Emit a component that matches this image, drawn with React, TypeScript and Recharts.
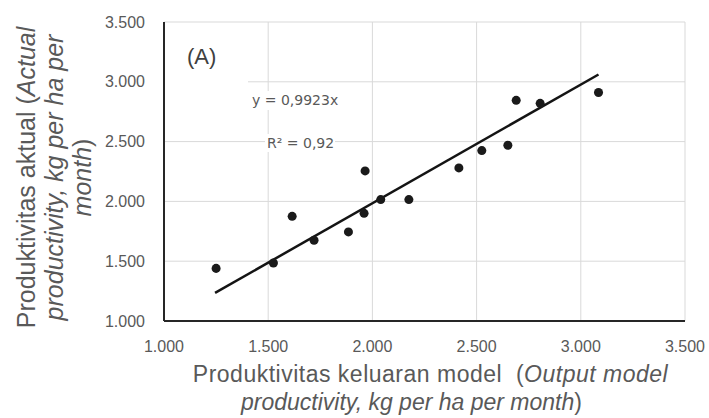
import React from 'react';
import { ScatterChart, Scatter, XAxis, YAxis, CartesianGrid, ReferenceLine, Label, Customized } from 'recharts';

// model output vs actual productivity (kg per ha per month)
const modelOutput = [1250, 1525, 1615, 1720, 1885, 1965, 1960, 2040, 2175, 2415, 2525, 2650, 2690, 2805, 3085];
const actualProd = [1440, 1485, 1875, 1675, 1745, 2255, 1900, 2015, 2015, 2280, 2425, 2470, 2845, 2820, 2910];

// trendline end points (y = 0,9923x)
const trendX = [1245, 3085];
const trendY = [1235, 3061];

const axisTicks = [1000, 1500, 2000, 2500, 3000, 3500];

const points = modelOutput.map((x, i) => ({ x, y: actualProd[i] }));

const FONT = '"Liberation Sans", Arial, sans-serif';
const GREY = '#595959';

const fmt = (v: number) => `${Math.floor(v / 1000)}.${String(v % 1000).padStart(3, '0')}`;

const XTitle = ({ viewBox }: any) => {
    const cx = viewBox.x + viewBox.width / 2;
    return (
        <g fill={GREY} fontFamily={FONT} fontSize={23}>
            <text x={cx + 6} y={382} textAnchor="middle" xmlSpace="preserve" letterSpacing={0.5}>
                <tspan>Produktivitas keluaran model  (</tspan>
                <tspan fontStyle="italic">Output model</tspan>
            </text>
            <text x={cx - 13} y={410} textAnchor="middle">
                <tspan fontStyle="italic">productivity, kg per ha per month</tspan>
                <tspan>)</tspan>
            </text>
        </g>
    );
};

const YTitle = ({ viewBox }: any) => {
    const cy = viewBox.y + viewBox.height / 2 + 6;
    return (
        <g transform={`translate(0, ${cy}) rotate(-90)`} fill={GREY} fontFamily={FONT} fontSize={25}>
            <text x={0} y={35} textAnchor="middle">
                <tspan>Produktivitas aktual (</tspan>
                <tspan fontStyle="italic">Actual</tspan>
            </text>
            <text x={0} y={63} textAnchor="middle">
                <tspan fontStyle="italic">productivity, kg per ha per</tspan>
            </text>
            <text x={0} y={91} textAnchor="middle">
                <tspan fontStyle="italic">month</tspan>
                <tspan>)</tspan>
            </text>
        </g>
    );
};

const Notes = () => (
    <g>
        <rect x={165} y={30} width={83} height={58} fill="#fff" />
        <text x={187} y={64} fontFamily={FONT} fontSize={22} fill="#404040">(A)</text>
        <rect x={250} y={91} width={98} height={19} fill="#fff" />
        <text x={252} y={105} fontFamily='"DejaVu Sans", sans-serif' fontSize={14} fill={GREY}>y = 0,9923x</text>
        <rect x={265} y={134} width={70} height={18} fill="#fff" />
        <text x={267} y={148} fontFamily='"DejaVu Sans", sans-serif' fontSize={14} fill={GREY}>R² = 0,92</text>
    </g>
);

const App: React.FC = () => {
    return (
        <div style={{ position: 'absolute', left: 0, top: 0, background: '#fff' }}>
            <ScatterChart width={709} height={418} margin={{ top: 22, right: 24, bottom: 0, left: 0 }}>
                <CartesianGrid stroke="#d9d9d9" />
                <XAxis
                    type="number"
                    dataKey="x"
                    domain={[1000, 3500]}
                    ticks={axisTicks}
                    tickFormatter={fmt}
                    height={97}
                    axisLine={{ stroke: '#262626', strokeWidth: 2 }}
                    tickLine={false}
                    tickMargin={14}
                    tick={{ fill: GREY, fontSize: 16, fontFamily: FONT }}
                >
                    <Label content={XTitle} />
                </XAxis>
                <YAxis
                    type="number"
                    dataKey="y"
                    domain={[1000, 3500]}
                    ticks={axisTicks}
                    tickFormatter={fmt}
                    width={164}
                    axisLine={{ stroke: '#262626', strokeWidth: 2 }}
                    tickLine={false}
                    tickMargin={13}
                    tick={{ fill: GREY, fontSize: 16, fontFamily: FONT }}
                >
                    <Label content={YTitle} />
                </YAxis>
                <Customized component={Notes} />
                <ReferenceLine
                    segment={[{ x: trendX[0], y: trendY[0] }, { x: trendX[1], y: trendY[1] }]}
                    stroke="#141414"
                    strokeWidth={2.5}
                    ifOverflow="visible"
                />
                <Scatter data={points} fill="#1a1a1a" isAnimationActive={false} />
            </ScatterChart>
        </div>
    );
};

export default App;
